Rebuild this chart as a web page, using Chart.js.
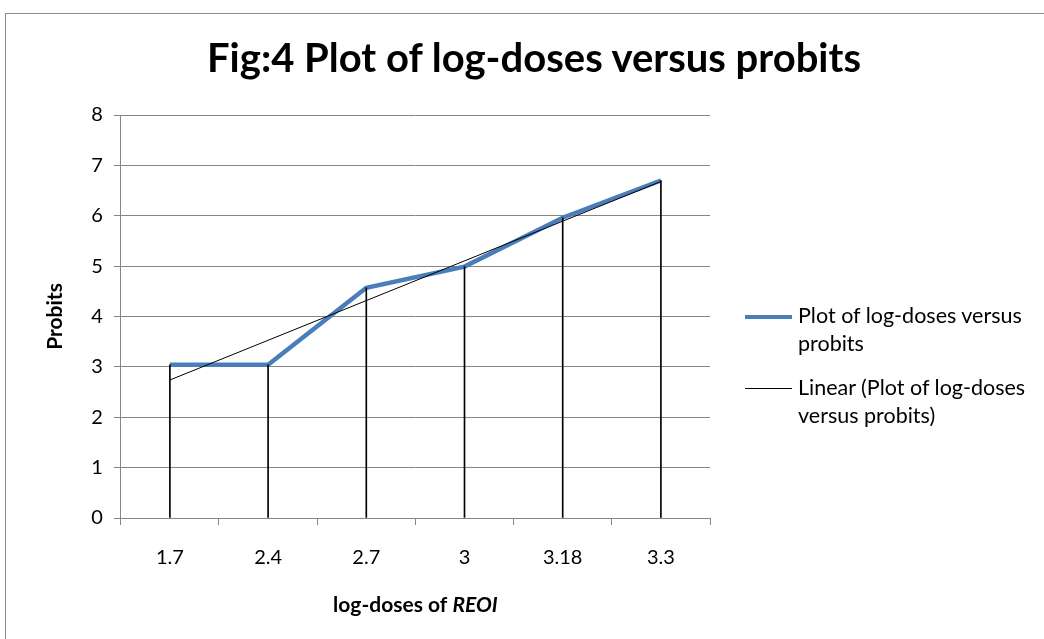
<!DOCTYPE html>
<html>
<head>
<meta charset="utf-8">
<script src="https://cdn.jsdelivr.net/npm/chart.js@4.4.1/dist/chart.umd.min.js"></script>
<style>
    html, body { margin: 0; padding: 0; background: #fff; }
    #wrap { position: relative; width: 1044px; height: 639px; overflow: hidden; font-family: Lato, "Open Sans", sans-serif; }
    #frame { position: absolute; left: 5px; top: 13px; width: 1100px; height: 700px; border: 1px solid #8c8c8c; }
    #title { position: absolute; left: 0; width: 1068px; top: 33px; text-align: center; font-weight: bold; font-size: 40px; color: #000; }
    #legend { position: absolute; left: 745px; top: 301px; font-size: 21.5px; line-height: 28px; color: #000; }
    .item { display: flex; align-items: flex-start; margin-bottom: 16px; }
    .swatch { width: 47px; margin-top: 15px; margin-right: 6px; flex: none; }
</style>
</head>
<body>
<div id="wrap">
    <div id="frame"></div>
    <canvas id="chart" width="1044" height="639"></canvas>
    <div id="title">Fig:4 Plot of log-doses versus probits</div>
    <div id="legend">
        <div class="item"><div class="swatch" style="border-top: 4px solid #4a7ebb; margin-top: 14px;"></div><div>Plot of log-doses versus<br>probits</div></div>
        <div class="item"><div class="swatch" style="border-top: 1px solid #000;"></div><div>Linear (Plot of log-doses<br>versus probits)</div></div>
    </div>
</div>
<script>
const categories = ['1.7', '2.4', '2.7', '3', '3.18', '3.3'];
const probits = [3.04, 3.04, 4.57, 4.99, 5.96, 6.70];
// trend line read at its two ends
const trendLine = [2.74, null, null, null, null, 6.68];
const yMin = 0, yMax = 8, yStep = 1;

const gridColor = '#868686';

// x axis title with italic part
const xTitlePlugin = {
    id: 'xTitle',
    afterDraw(chart) {
        const ctx = chart.ctx;
        const area = chart.chartArea;
        const a = 'log-doses of ', b = 'REOI';
        ctx.save();
        ctx.fillStyle = '#000';
        ctx.textBaseline = 'middle';
        ctx.font = 'bold 21px Lato';
        const wa = ctx.measureText(a).width;
        ctx.font = 'italic bold 21px Lato';
        const wb = ctx.measureText(b).width;
        const x0 = (area.left + area.right) / 2 - (wa + wb) / 2;
        ctx.font = 'bold 21px Lato';
        ctx.textAlign = 'left';
        ctx.fillText(a, x0, 605);
        ctx.font = 'italic bold 21px Lato';
        ctx.fillText(b, x0 + wa, 605);
        ctx.restore();
    }
};

function init() {
    const ctx = document.getElementById('chart').getContext('2d');
    new Chart(ctx, {
        type: 'line',
        data: {
            labels: categories,
            datasets: [
                {
                    type: 'line',
                    label: 'Linear (Plot of log-doses versus probits)',
                    data: trendLine,
                    borderColor: '#000',
                    borderWidth: 1,
                    pointRadius: 0,
                    spanGaps: true,
                    order: 0
                },
                {
                    type: 'bar',
                    label: 'drop',
                    data: probits,
                    backgroundColor: '#000',
                    barThickness: 1,
                    order: 1
                },
                {
                    type: 'line',
                    label: 'Plot of log-doses versus probits',
                    data: probits,
                    borderColor: '#4a7ebb',
                    borderWidth: 4.5,
                    pointRadius: 0,
                    tension: 0,
                    order: 2
                }
            ]
        },
        options: {
            responsive: false,
            devicePixelRatio: 1,
            animation: false,
            layout: { padding: { left: 39, right: 334, top: 115, bottom: 48 } },
            plugins: {
                legend: { display: false },
                title: { display: false },
                tooltip: { enabled: false }
            },
            scales: {
                x: {
                    offset: true,
                    grid: { offset: true, drawOnChartArea: false, drawTicks: true, tickLength: 7, color: gridColor },
                    border: { color: gridColor },
                    ticks: { color: '#000', font: { family: 'Lato', size: 20 }, padding: 21 }
                },
                y: {
                    min: yMin,
                    max: yMax,
                    ticks: { stepSize: yStep, color: '#000', font: { family: 'Lato', size: 20 }, padding: 11 },
                    grid: { color: gridColor, tickLength: 7 },
                    border: { color: gridColor },
                    title: {
                        display: true,
                        text: 'Probits',
                        color: '#000',
                        font: { family: 'Lato', size: 21, weight: 'bold' },
                        padding: { top: 4, bottom: 12 }
                    }
                }
            }
        },
        plugins: [xTitlePlugin]
    });
}

document.addEventListener('DOMContentLoaded', init);
</script>
</body>
</html>
